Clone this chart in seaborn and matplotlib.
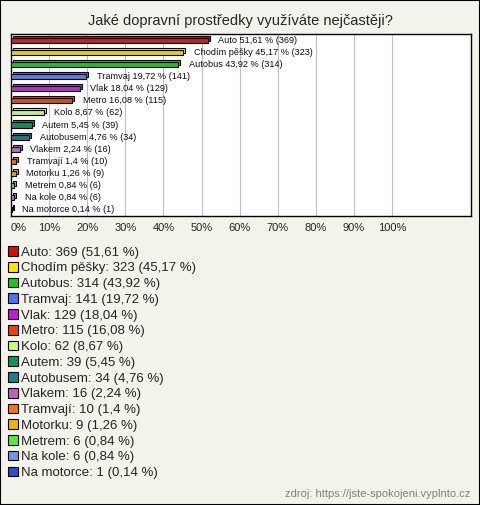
import matplotlib
matplotlib.use("Agg")
import matplotlib.pyplot as plt
import matplotlib.transforms as mtransforms
from matplotlib.patches import Rectangle, Patch
import seaborn as sns
import pandas as pd

# data
categories = ["Auto", "Chodím pěšky", "Autobus", "Tramvaj", "Vlak", "Metro", "Kolo",
              "Autem", "Autobusem", "Vlakem", "Tramvají", "Motorku", "Metrem",
              "Na kole", "Na motorce"]
counts = [369, 323, 314, 141, 129, 115, 62, 39, 34, 16, 10, 9, 6, 6, 1]
percents = [51.61, 45.17, 43.92, 19.72, 18.04, 16.08, 8.67, 5.45, 4.76, 2.24, 1.4, 1.26, 0.84, 0.84, 0.14]
colors = ["#c8160c", "#ffe800", "#1ec81e", "#4a72f0", "#c01ed2", "#e4420e", "#c8f87a",
          "#12935c", "#1c7f8c", "#c060c0", "#e87a10", "#e8b410", "#58e840", "#6f96e0", "#2e50b8"]
title = "Jaké dopravní prostředky využíváte nejčastěji?"
source = "zdroj: https://jste-spokojeni.vyplnto.cz"


def fmt(v):
    return f"{v:g}".replace(".", ",")


df = pd.DataFrame({"cat": categories, "pct": percents, "n": counts})

sns.set_style("white")
plt.rcParams["font.family"] = ["Liberation Sans", "DejaVu Sans"]

bg = "#f4f3eb"
fig = plt.figure(figsize=(4.8, 5.05), dpi=100, facecolor=bg)
ax = fig.add_axes([11 / 480, 1 - 216 / 505, 460 / 480, 182 / 505])
ax.set_facecolor("white")

sns.barplot(data=df, x="pct", y="cat", hue="cat", palette=colors, orient="h",
            width=0.42, edgecolor="black", linewidth=0.8, legend=False, ax=ax, zorder=3)

# pseudo 3D top face
off = mtransforms.offset_copy(ax.transData, fig=fig, x=2, y=2, units="dots")
for p, c in zip(ax.patches, colors):
    r = Rectangle((p.get_x(), p.get_y()), p.get_width(), p.get_height(),
                  facecolor=c, edgecolor="black", linewidth=0.8, transform=off, zorder=2)
    ax.add_patch(r)

for i, (c, v, n) in enumerate(zip(categories, percents, counts)):
    ax.annotate(f"{c} {fmt(v)} % ({n})", xy=(v, i), xytext=(7.5, 0), textcoords="offset points",
                va="center", ha="left", fontsize=6.6, color="#111111", zorder=5)

ax.set_xlim(0, 120.7)
ax.set_ylim(len(categories) - 0.45, -0.55)
ax.set_xticks(range(0, 101, 10))
ax.set_xticklabels([f"{t}%" for t in range(0, 101, 10)], fontsize=8)
ax.get_xticklabels()[0].set_horizontalalignment("left")
ax.tick_params(axis="x", length=0, pad=5)
ax.set_yticks([])
ax.set_xlabel("")
ax.set_ylabel("")
ax.grid(axis="x", color="#c0c0c0", linewidth=0.8, zorder=0)
ax.set_axisbelow(True)
for s in ax.spines.values():
    s.set_color("black")
    s.set_linewidth(1.0)

fig.text(0.5, 1 - 21 / 505, title, ha="center", va="center", fontsize=10.5)

handles = [Patch(facecolor=c, edgecolor="black", linewidth=0.8) for c in colors]
labels = [f"{c}: {n} ({fmt(v)} %)" for c, n, v in zip(categories, counts, percents)]
fig.legend(handles, labels, loc="upper left", bbox_to_anchor=(3 / 480, 1 - 241 / 505),
           frameon=False, fontsize=9.5, handlelength=0.75, handleheight=0.75,
           handletextpad=0.25, labelspacing=0.25, borderaxespad=0)

fig.text(470 / 480, 1 - 494 / 505, source, ha="right", va="center", fontsize=8, color="#808080")

fig.patches.append(Rectangle((0, 0), 1, 1, transform=fig.transFigure, fill=False,
                             edgecolor="black", linewidth=1.5))

fig.savefig("out.png", dpi=100, facecolor=bg)
